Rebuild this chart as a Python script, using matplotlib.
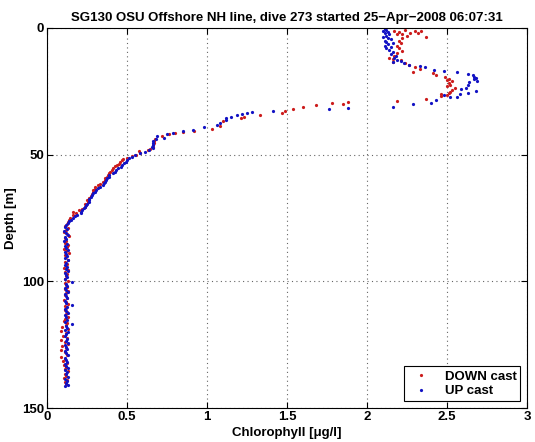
import matplotlib
matplotlib.use("Agg")
import matplotlib.pyplot as plt

plt.rcParams['font.family'] = ['Liberation Sans', 'DejaVu Sans']
plt.rcParams['font.weight'] = 'bold'

title = "SG130 OSU Offshore NH line, dive 273 started 25\u2212Apr\u22122008 06:07:31"
xlabel = "Chlorophyll [\u03bcg/l]"
ylabel = "Depth [m]"
xticks = [0, 0.5, 1, 1.5, 2, 2.5, 3]
xticklabels = ["0", "0.5", "1", "1.5", "2", "2.5", "3"]
yticks = [0, 50, 100, 150]
yticklabels = ["0", "50", "100", "150"]

# DOWN cast (red)
down_depth = [
    0.8, 1.0, 1.2, 1.3, 1.5, 1.8, 2.0, 2.2, 2.5, 3.0, 3.5, 4.0, 5.0, 6.0, 7.0, 8.0, 9.0, 10.0,
    11.0, 11.7, 12.3, 12.8, 13.4, 13.8, 14.5, 15.2, 16.2, 17.3, 17.8, 18.5, 19.2, 20.0, 20.5,
    21.0, 21.6, 22.5, 23.0, 23.7, 24.5, 25.2, 25.7, 26.0, 26.5, 26.8, 28.0, 28.8,
    29.2, 30.0, 29.7, 30.4, 31.2, 32.0, 32.7, 33.6, 34.3, 35.0, 35.5, 36.7, 38.7, 39.9, 40.7, 41.0,
    41.5, 42.0, 42.8, 43.9, 44.6, 45.3, 46.1, 46.9, 47.6, 48.2, 48.5, 49.3, 50.0, 50.5, 51.2,
    51.8, 52.3, 52.8, 53.5, 54.0, 54.6, 55.3, 56.0, 56.7, 57.4, 58.0, 58.7, 59.4, 60.0, 60.7,
    61.5, 62.0, 62.6, 63.4, 64.0, 64.6, 65.4, 66.2, 67.0, 67.9, 68.6, 69.4, 70.0, 70.6, 71.3,
    72.0, 72.5, 73.2, 74.0, 75.0, 75.8, 76.5,
    77.2, 78.0, 78.9, 79.7, 80.5, 81.4, 82.2, 83.0, 83.9, 84.7, 85.5, 86.4, 87.2, 88.0, 88.9,
    89.7, 90.5, 91.4, 92.2, 93.0, 93.9, 94.7, 95.5, 96.4, 97.2, 98.0, 98.9, 99.7, 100.5, 101.4,
    102.2, 103.0, 103.9, 104.7, 105.5, 106.4, 107.2, 108.0, 108.9, 109.7, 110.5, 111.4, 112.2,
    113.0, 113.9, 114.7, 115.5, 116.4, 117.2, 118.0, 118.9, 119.7, 120.5, 121.4, 122.2, 123.0,
    123.9, 124.7, 125.5, 126.4, 127.2, 128.0, 128.9, 129.7, 130.5, 131.4, 132.2, 133.0, 133.9,
    134.7, 135.5, 136.4, 137.2, 138.0, 138.9, 139.7, 140.5,
]
down_chl = [
    2.24, 2.30, 2.17, 2.34, 2.20, 2.27, 2.32, 2.22, 2.19, 2.25, 2.37, 2.22, 2.20, 2.21, 2.19, 2.20, 2.22, 2.19,
    2.17, 2.14, 2.16, 2.21, 2.16, 2.24, 2.26, 2.30, 2.33, 2.29, 2.41, 2.43, 2.49, 2.51, 2.50,
    2.53, 2.51, 2.52, 2.50, 2.55, 2.53, 2.52, 2.51, 2.46, 2.50, 2.46, 2.37, 2.19,
    1.88, 1.85, 1.78, 1.68, 1.60, 1.54, 1.49, 1.47, 1.33, 1.23, 1.21, 1.10, 1.08, 1.03, 0.92, 0.85,
    0.80, 0.76, 0.72, 0.675, 0.67, 0.67, 0.665, 0.66, 0.645, 0.63, 0.575, 0.58, 0.555, 0.53, 0.50,
    0.475, 0.47, 0.455, 0.45, 0.44, 0.425, 0.41, 0.405, 0.395, 0.39, 0.38, 0.375, 0.36, 0.36, 0.35,
    0.33, 0.32, 0.30, 0.30, 0.29, 0.29, 0.28, 0.275, 0.26, 0.25, 0.255, 0.24, 0.245, 0.24, 0.22,
    0.20, 0.16, 0.18, 0.165, 0.145, 0.14, 0.13,
    0.125, 0.115, 0.13, 0.12, 0.105, 0.125, 0.135, 0.115, 0.12, 0.11, 0.13, 0.125, 0.105, 0.12, 0.135,
    0.115, 0.12, 0.13, 0.11, 0.125, 0.12, 0.105, 0.13, 0.115, 0.125, 0.12, 0.11, 0.13, 0.115, 0.12,
    0.125, 0.11, 0.13, 0.12, 0.115, 0.125, 0.105, 0.12, 0.13, 0.115, 0.12, 0.11, 0.125,
    0.12, 0.13, 0.115, 0.105, 0.125, 0.12, 0.095, 0.13, 0.085, 0.12, 0.10, 0.125, 0.09,
    0.115, 0.13, 0.095, 0.12, 0.085, 0.11, 0.125, 0.09, 0.115, 0.10, 0.125, 0.105, 0.12,
    0.11, 0.13, 0.115, 0.12, 0.105, 0.125, 0.115, 0.12,
]

# UP cast (blue)
up_depth = [
    0.3, 0.8, 1.2, 1.6, 2.0, 2.5, 3.0, 3.5, 4.0, 4.5, 5.0, 5.5, 6.0, 6.5, 7.0, 7.5, 8.0, 8.7,
    9.5, 10.3, 11.0, 11.8, 12.5, 13.0, 13.4, 13.8, 14.6, 15.0, 15.4, 16.6, 17.0, 17.4, 18.2,
    18.5, 19.2, 19.7, 20.3, 20.9, 21.3, 22.5, 23.7, 24.1, 24.9, 25.7, 25.9, 26.5, 27.2, 27.4,
    28.4, 29.6, 30.0, 31.2,
    31.6, 32.0, 32.7, 33.2, 33.6, 34.0, 34.3, 35.1, 35.5, 36.3, 37.5, 38.3, 39.1, 40.3, 40.7,
    41.3, 42.0, 42.6, 43.3, 44.0, 44.8, 45.5, 46.2, 47.0, 47.5, 48.1, 48.8, 49.4, 50.1, 50.8,
    51.4, 52.1, 52.8, 53.4, 54.0, 54.7, 55.3, 56.0, 56.7, 57.3, 58.0, 58.7, 59.3, 60.0, 60.6,
    61.3, 62.0, 62.6, 63.3, 64.0, 64.6, 65.3, 66.0, 66.7, 67.5, 68.0, 68.6, 69.3, 70.0, 70.6,
    71.2, 72.0, 72.5, 73.0, 73.7, 74.3, 75.0, 75.7, 76.3, 77.0,
    77.6, 78.4, 79.2, 80.1, 80.9, 81.7, 82.6, 83.4, 84.2, 85.1, 85.9, 86.7, 87.6, 88.4, 89.2,
    90.1, 90.9, 91.7, 92.6, 93.4, 94.2, 95.1, 95.9, 96.7, 97.6, 98.4, 99.2, 100.1, 100.9, 101.7,
    102.6, 103.4, 104.2, 105.1, 105.9, 106.7, 107.6, 108.4, 109.2, 110.1, 110.9, 111.7, 112.6,
    113.4, 114.2, 115.1, 115.9, 116.7, 117.6, 118.4, 119.2, 120.1, 120.9, 121.7, 122.6, 123.4,
    124.2, 125.1, 125.9, 126.7, 127.6, 128.4, 129.2, 130.1, 130.9, 131.7, 132.6, 133.4, 134.2,
    135.1, 135.9, 136.7, 137.6, 138.4, 139.2, 140.1, 140.9, 141.4,
]
up_chl = [
    2.11, 2.12, 2.10, 2.13, 2.11, 2.14, 2.12, 2.10, 2.13, 2.15, 2.11, 2.12, 2.16, 2.13, 2.11, 2.15, 2.12, 2.14,
    2.16, 2.15, 2.18, 2.17, 2.19, 2.21, 2.16, 2.23, 2.26, 2.33, 2.36, 2.42, 2.48, 2.56, 2.63,
    2.66, 2.67, 2.68, 2.67, 2.69, 2.64, 2.63, 2.62, 2.59, 2.68, 2.63, 2.58, 2.48, 2.56, 2.52,
    2.43, 2.40, 2.29, 2.16,
    1.88, 1.76, 1.41, 1.28, 1.25, 1.22, 1.19, 1.15, 1.12, 1.12, 1.08, 1.06, 0.98, 0.91, 0.85,
    0.79, 0.75, 0.69, 0.73, 0.68, 0.665, 0.66, 0.66, 0.655, 0.66, 0.64, 0.61, 0.58, 0.55, 0.53,
    0.51, 0.50, 0.495, 0.48, 0.47, 0.46, 0.445, 0.43, 0.425, 0.41, 0.39, 0.385, 0.375, 0.37, 0.36,
    0.355, 0.35, 0.33, 0.32, 0.305, 0.30, 0.29, 0.28, 0.275, 0.265, 0.26, 0.26, 0.25, 0.245, 0.235,
    0.23, 0.22, 0.21, 0.21, 0.19, 0.175, 0.165, 0.15, 0.14, 0.13,
    0.12, 0.11, 0.125, 0.105, 0.12, 0.13, 0.11, 0.12, 0.105, 0.125, 0.115, 0.12, 0.13, 0.11, 0.12,
    0.125, 0.115, 0.13, 0.12, 0.11, 0.125, 0.12, 0.13, 0.115, 0.12, 0.125, 0.11, 0.155, 0.12, 0.125,
    0.115, 0.12, 0.13, 0.115, 0.12, 0.125, 0.115, 0.12, 0.155, 0.125, 0.115, 0.12, 0.13,
    0.115, 0.12, 0.125, 0.11, 0.155, 0.12, 0.125, 0.115, 0.13, 0.12, 0.11, 0.125, 0.12,
    0.13, 0.115, 0.12, 0.125, 0.11, 0.12, 0.13, 0.115, 0.12, 0.125, 0.11, 0.12, 0.13,
    0.115, 0.125, 0.12, 0.13, 0.115, 0.125, 0.12, 0.13, 0.115,
]

FS = 9.5

fig = plt.figure(figsize=(5.35, 4.42), dpi=100)
ax = fig.add_axes([47/535, 1 - 408/442, 480/535, 380/442])

ax.plot(down_chl, down_depth, linestyle='none', marker='o', markersize=2.3,
        markeredgewidth=0, color='#cc1c1c', label='DOWN cast')
ax.plot(up_chl, up_depth, linestyle='none', marker='o', markersize=2.3,
        markeredgewidth=0, color='#1212c4', label='UP cast')

ax.set_xlim(0, 3)
ax.set_ylim(150, 0)
ax.set_xticks(xticks)
ax.set_xticklabels(xticklabels)
ax.set_yticks(yticks)
ax.set_yticklabels(yticklabels)
ax.tick_params(direction='in', length=4, width=0.8, top=True, right=True,
               labelsize=FS, pad=2)
for lab in ax.get_xticklabels() + ax.get_yticklabels():
    lab.set_fontweight('bold')
ax.grid(True, linestyle=(0, (1, 3)), color='#666666', linewidth=0.8)
for s in ax.spines.values():
    s.set_linewidth(0.8)

ax.set_title(title, fontsize=FS, fontweight='bold', pad=5)
ax.set_xlabel(xlabel, fontsize=FS, fontweight='bold', labelpad=3)
ax.set_ylabel(ylabel, fontsize=FS, fontweight='bold', labelpad=4)

leg = ax.legend(loc='lower right', frameon=True, fancybox=False,
                edgecolor='black', framealpha=1, markerscale=1.0,
                handlelength=2.0, borderaxespad=0.5, borderpad=0.3, labelspacing=0.2,
                prop={'weight': 'bold', 'size': FS})
leg.get_frame().set_linewidth(0.8)

fig.savefig('out.png', dpi=100)
